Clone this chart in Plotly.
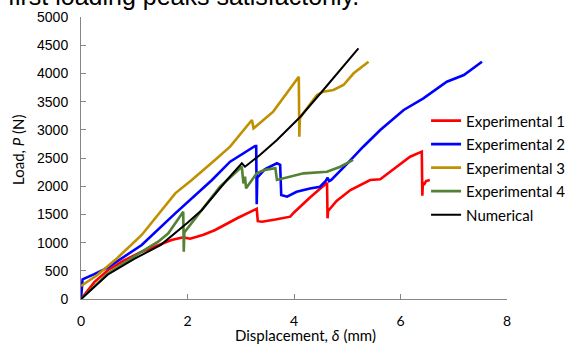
import plotly.graph_objects as go

# ---- data ----
exp1_x = [0, 0.25, 0.51, 0.8, 1.14, 1.45, 1.70, 1.92, 2.05, 2.30, 2.52, 2.95, 3.27, 3.30, 3.32, 3.40, 3.65, 3.93, 3.99, 4.30, 4.62, 4.63, 4.64, 4.80, 5.06, 5.43, 5.62, 5.93, 6.18, 6.40, 6.41, 6.42, 6.45, 6.48, 6.55]
exp1_y = [0, 300, 514, 680, 839, 960, 1046, 1093, 1069, 1140, 1223, 1440, 1600, 1600, 1380, 1371, 1410, 1460, 1525, 1800, 2060, 1430, 1560, 1740, 1933, 2110, 2122, 2346, 2523, 2612, 1830, 2060, 2040, 2090, 2110]

exp2_x = [0, 0.03, 0.25, 0.51, 1.14, 1.77, 2.46, 2.80, 3.27, 3.29, 3.30, 3.31, 3.45, 3.68, 3.74, 3.76, 3.87, 4.05, 4.30, 4.49, 4.60, 4.63, 4.66, 4.70, 5.00, 5.30, 5.62, 6.06, 6.43, 6.87, 7.19, 7.53]
exp2_y = [0, 350, 440, 562, 957, 1519, 2110, 2435, 2713, 2713, 1680, 2150, 2300, 2406, 2380, 1844, 1814, 1900, 1960, 1991, 2100, 2150, 2090, 2110, 2400, 2700, 2996, 3351, 3558, 3853, 3972, 4207]

exp3_x = [0, 0.30, 0.64, 1.14, 1.77, 2.08, 2.50, 2.80, 3.21, 3.24, 3.61, 3.80, 4.09, 4.10, 4.11, 4.15, 4.43, 4.55, 4.74, 4.93, 5.12, 5.40]
exp3_y = [230, 420, 690, 1135, 1874, 2110, 2450, 2701, 3174, 3026, 3322, 3560, 3942, 2878, 3200, 3262, 3617, 3676, 3706, 3794, 4002, 4207]

exp4_x = [0, 0.51, 1.14, 1.45, 1.64, 1.92, 1.93, 1.94, 2.61, 3.02, 3.05, 3.08, 3.10, 3.30, 3.45, 3.65, 3.68, 4.18, 4.62, 4.87, 5.11]
exp4_y = [0, 456, 839, 1016, 1165, 1548, 839, 1180, 1991, 2346, 2051, 2168, 1962, 2228, 2290, 2317, 2110, 2228, 2257, 2346, 2465]

num_x = [0, 0.50, 1.00, 1.50, 2.00, 2.27, 2.74, 3.02, 3.08, 3.36, 3.68, 4.12, 4.55, 5.21]
num_y = [0, 430, 710, 960, 1350, 1578, 2110, 2406, 2346, 2553, 2819, 3232, 3706, 4445]

series_names = ["Experimental 1", "Experimental 2", "Experimental 3", "Experimental 4", "Numerical"]
x_ticks = [0, 2, 4, 6, 8]
y_ticks = [0, 500, 1000, 1500, 2000, 2500, 3000, 3500, 4000, 4500, 5000]

colors = ["#FF0000", "#0000FF", "#BF9000", "#548235", "#000000"]
widths = [2.6, 2.6, 2.6, 2.6, 2.0]
xs = [exp1_x, exp2_x, exp3_x, exp4_x, num_x]
ys = [exp1_y, exp2_y, exp3_y, exp4_y, num_y]

fig = go.Figure()
for name, x, y, c, w in zip(series_names, xs, ys, colors, widths):
    fig.add_trace(go.Scatter(x=x, y=y, mode="lines", name=name, legendgroup=name,
                             line=dict(color=c, width=w)))

axis_col = "#868686"
tick_font_x = dict(family="Lato, Open Sans, sans-serif", size=14, color="#000000")
tick_font_y = dict(family="Liberation Sans, Arial, sans-serif", size=14, color="#000000")

fig.update_layout(
    width=567, height=345,
    margin=dict(l=81, r=60, t=17, b=46, autoexpand=False),
    paper_bgcolor="white", plot_bgcolor="white",
    showlegend=True,
    legend=dict(x=0.810, y=0.69, xanchor="left", yanchor="top",
                font=dict(family="Lato, Open Sans, sans-serif", size=15, color="#000000"),
                bgcolor="rgba(0,0,0,0)", itemwidth=30, traceorder="grouped",
                tracegroupgap=1),
    xaxis=dict(range=[0, 8], tickvals=x_ticks, ticks="inside", ticklen=5,
               tickcolor=axis_col, showline=True, linecolor=axis_col, linewidth=1,
               showgrid=False, zeroline=False, tickfont=tick_font_x,
               ticklabelstandoff=9),
    yaxis=dict(range=[0, 5000], tickvals=y_ticks, ticks="inside", ticklen=5,
               tickcolor=axis_col, showline=True, linecolor=axis_col, linewidth=1,
               showgrid=False, zeroline=False, tickfont=tick_font_y,
               ticklabelstandoff=9),
    annotations=[
        dict(text="Displacement, <i>δ</i> (mm)", xref="paper", yref="paper",
             x=0.526, y=-0.128, xanchor="center", yanchor="middle", showarrow=False,
             font=dict(family="Lato, Open Sans, sans-serif", size=15, color="#000000")),
        dict(text="Load, <i>P</i> (N)", xref="paper", yref="paper", textangle=-90,
             x=-0.148, y=0.532, xanchor="center", yanchor="middle", showarrow=False,
             font=dict(family="Lato, Open Sans, sans-serif", size=15, color="#000000")),
        dict(text="first loading peaks satisfactorily.", xref="paper", yref="paper",
             x=-0.176, y=1.0177, xanchor="left", yanchor="bottom", showarrow=False,
             font=dict(family="Liberation Sans, Arial, sans-serif", size=25, color="#000000")),
    ],
)

fig.write_html("out.html", config={"displayModeBar": False},
               post_script="document.body.style.margin='0';document.body.style.padding='0';")
